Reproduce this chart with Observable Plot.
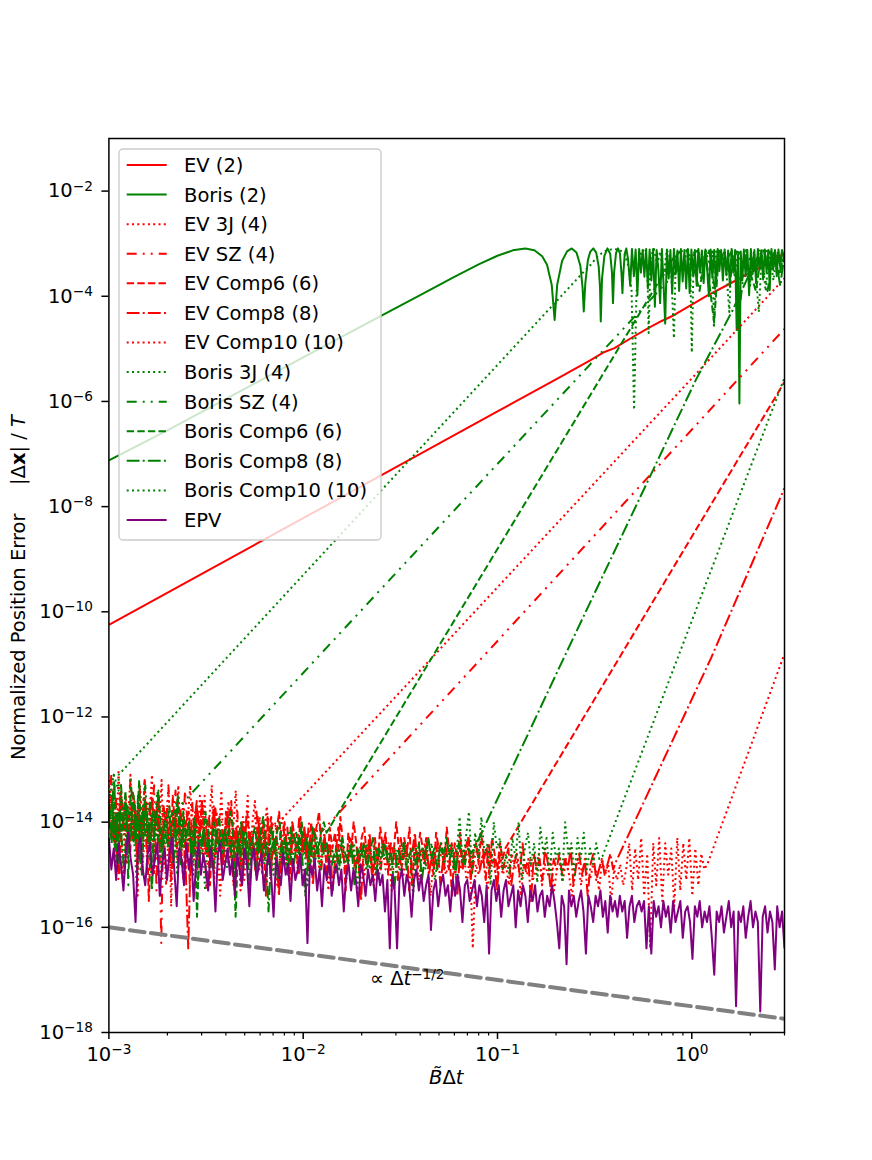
<!DOCTYPE html>
<html>
<head>
<meta charset="utf-8">
<script src="https://cdn.jsdelivr.net/npm/d3@7"></script>
<script src="https://cdn.jsdelivr.net/npm/@observablehq/plot@0.6"></script>
<style>
html, body { margin: 0; padding: 0; background: #fff; }
#wrap { position: relative; width: 872px; height: 1160px; font-family: "DejaVu Sans", sans-serif; }
</style>
</head>
<body>
<div id="wrap"></div>
<script>
// ---------------- axes / ticks ----------------
const xDomain = [1e-3, 3];
const yDomain = [1e-18, 1e-1];
const xMajorTicks = [1e-3, 1e-2, 1e-1, 1];
const xTickLabels = ["10^\u22123", "10^\u22122", "10^\u22121", "10^0"];
const xMinorTicks = [2e-3,3e-3,4e-3,5e-3,6e-3,7e-3,8e-3,9e-3,2e-2,3e-2,4e-2,5e-2,6e-2,7e-2,8e-2,9e-2,0.2,0.3,0.4,0.5,0.6,0.7,0.8,0.9,2,3];
const yMajorTicks = [1e-18,1e-16,1e-14,1e-12,1e-10,1e-8,1e-6,1e-4,1e-2];
const yTickLabels = ["10^\u221218","10^\u221216","10^\u221214","10^\u221212","10^\u221210","10^\u22128","10^\u22126","10^\u22124","10^\u22122"];

// ---------------- series ----------------
const seriesNames = ["EV (2)","Boris (2)","EV 3J (4)","EV SZ (4)","EV Comp6 (6)","EV Comp8 (8)","EV Comp10 (10)","Boris 3J (4)","Boris SZ (4)","Boris Comp6 (6)","Boris Comp8 (8)","Boris Comp10 (10)","EPV"];
const seriesColors = ["#ff0000","#008000","#ff0000","#ff0000","#ff0000","#ff0000","#ff0000","#008000","#008000","#008000","#008000","#008000","#800080"];
const seriesDash = [null,null,"2,3.3","10,6,2,6,2,6","7.4,3.2","12.8,3.2,2,3.2","2,3.3","2,3.3","10,6,2,6,2,6","7.4,3.2","12.8,3.2,2,3.2","2,3.3",null];

// Values, in decades: [log10(dt), log10(error)].
// Noise-floor parts: log10(error) samples from dt = 1e-3 up to the given end decade.
const evTwoLog = [[-3,-10.25],[-2,-8.22],[-1,-6.19],[-0.699,-5.58],[-0.523,-5.22],[-0.456,-5.07],[-0.398,-4.985],[-0.301,-4.77],[-0.222,-4.6],[-0.155,-4.47],[-0.097,-4.37],[0,-4.16],[0.079,-3.99],[0.176,-3.8],[0.301,-3.55],[0.398,-3.37],[0.431,-3.27],[0.477,-3.19]];

const borisTwoLog = [[-3,-7.12],[-2.699,-6.55],[-2.301,-5.76],[-2,-5.16],[-1.699,-4.57],[-1.398,-3.98],[-1.222,-3.63],[-1.097,-3.395],[-1,-3.23],[-0.921,-3.127],[-0.857,-3.09],[-0.81,-3.124],[-0.77,-3.24],[-0.745,-3.4],[-0.721,-3.78],[-0.706,-4.45],[-0.6925,-3.775],[-0.6676,-3.33],[-0.642,-3.146],[-0.618,-3.09],[-0.5935,-3.167],[-0.5735,-3.42],[-0.562,-3.84],[-0.556,-4.29],[-0.548,-3.75],[-0.5346,-3.31],[-0.523,-3.157],[-0.507,-3.09],[-0.492,-3.17],[-0.479,-3.44],[-0.4724,-3.83],[-0.4685,-4.48],[-0.462,-3.66],[-0.4498,-3.23],[-0.434,-3.09],[-0.42,-3.19],[-0.411,-3.54],[-0.4056,-4.13],[-0.4,-3.55],[-0.39,-3.18],[-0.38,-3.09],[-0.3696,-3.19],[-0.3615,-3.59],[-0.357,-3.94],[-0.3526,-3.585],[-0.345,-3.19],[-0.337,-3.09],
[-0.328,-3.3],[-0.317,-3.8],[-0.308,-3.1],[-0.298,-3.62],[-0.289,-3.11],[-0.28,-3.98],[-0.271,-3.1],[-0.262,-3.55],[-0.253,-3.12],[-0.244,-3.63],[-0.235,-3.1],[-0.226,-3.85],[-0.217,-3.11],[-0.208,-3.7],[-0.199,-3.1],[-0.19,-4.2],[-0.181,-3.12],[-0.172,-3.5],[-0.163,-4.13],[-0.154,-3.1],[-0.145,-3.8],[-0.137,-4.52],[-0.128,-3.11],[-0.119,-3.66],[-0.11,-3.12],[-0.101,-3.95],[-0.092,-3.1],[-0.083,-3.58],[-0.074,-3.13],[-0.065,-3.9],[-0.056,-3.1],[-0.047,-3.72],[-0.038,-3.12],[-0.029,-3.85],[-0.02,-3.1],[-0.011,-3.94],[-0.002,-3.11],[0.007,-3.6],[0.016,-3.12],[0.025,-3.8],[0.034,-3.1],[0.043,-3.55],[0.052,-3.13],[0.061,-3.75],[0.07,-3.11],[0.079,-3.48],[0.088,-4.0],[0.097,-3.11],[0.106,-3.65],[0.115,-3.12],[0.124,-3.78],[0.133,-3.1],[0.142,-3.52],[0.151,-3.12],[0.16,-3.7],[0.169,-3.11],[0.178,-3.6],[0.187,-3.13],[0.196,-3.82],[0.205,-3.1],[0.214,-3.55],[0.223,-3.12],[0.231,-4.64],[0.238,-3.2],[0.245,-6.04],[0.252,-3.15],[0.26,-3.7],[0.268,-3.11],[0.277,-3.62],[0.286,-3.12],[0.295,-3.98],[0.304,-3.1],[0.313,-3.58],[0.322,-3.12],[0.331,-3.75],[0.34,-3.1],[0.349,-3.5],[0.358,-3.13],[0.367,-3.68],[0.376,-3.11],[0.385,-3.55],[0.394,-3.12],[0.401,-3.88],[0.41,-3.1],[0.419,-3.5],[0.428,-3.12],[0.437,-3.62],[0.446,-3.11],[0.455,-3.45],[0.464,-3.12],[0.477,-3.3]];

const ev3jNoiseEnd = -2.15;
const ev3jNoise = [-13.2,-14.1,-13.6,-14.9,-13.0,-13.9,-15.2,-13.5,-14.0,-13.1,
-14.3,-13.7,-15.4,-13.3,-14.0,-13.2,-14.6,-13.8,-13.1,-15.0,
-13.6,-14.1,-13.2,-14.8,-13.9,-13.4,-15.6,-13.8,-14.0,-13.3,
-14.4,-13.6,-15.0,-13.9,-13.3,-14.5,-13.8,-14.9,-13.5,-14.1,
-13.5,-14.6,-13.9,-13.3,-15.1,-13.8,-14.2,-13.4,-14.8,-14.0,
-13.6,-14.7,-14.1,-13.4,-14.3,-15.3,-13.9,-14.2,-13.5,-14.8,
-14.0,-13.6,-14.6,-13.9,-15.0,-14.1,-13.7,-14.4,-14.0,-14.1];
const ev3jLog = [[-2.15,-14.1],[-1.339,-10.88],[0.056,-5.34],[0.477,-3.66]];

const evSzNoiseEnd = -1.91;
const evSzNoise = [-13.9,-13.1,-14.4,-13.5,-15.1,-13.3,-14.0,-13.6,-14.6,-13.2,
-14.3,-13.7,-14.8,-13.4,-14.2,-13.2,-14.9,-13.8,-14.0,-13.3,
-15.3,-13.6,-16.3,-13.7,-14.1,-13.3,-14.6,-13.9,-13.4,-15.0,
-13.7,-14.3,-13.4,-14.0,-15.2,-13.6,-14.4,-13.8,-14.8,-13.6,
-14.1,-15.3,-13.9,-14.3,-13.7,-14.6,-14.0,-13.8,-14.4,-14.1,
-13.9,-14.7,-14.0,-14.3,-13.8,-14.9,-14.1,-14.4,-13.9,-14.2,
-14.6,-14.0,-13.8,-14.3,-14.8,-14.1,-14.5,-13.9,-15.2,-14.2,
-14.0,-14.6,-14.3,-13.9,-14.4,-14.1,-14.8,-14.0,-14.3,-14.5,
-13.9,-14.4,-14.2,-14.7,-14.0,-14.5,-14.1,-14.3,-14.0,-14.2];
const evSzLog = [[-1.91,-14.2],[-1.081,-10.88],[0.477,-4.62]];

const evC6NoiseEnd = -0.96;
const evC6Noise = [-14.0,-13.5,-14.4,-13.8,-15.0,-13.6,-14.2,-13.9,-14.6,-13.4,
-14.1,-13.7,-14.8,-14.0,-13.6,-15.5,-13.9,-14.3,-13.7,-14.1,
-14.5,-13.8,-14.0,-14.7,-13.5,-14.2,-13.6,-14.4,-15.1,-14.0,
-13.8,-14.3,-14.6,-13.7,-14.2,-13.6,-14.5,-14.0,-15.2,-14.1,
-13.7,-14.4,-14.2,-14.8,-13.8,-14.3,-13.6,-14.6,-14.1,-14.4,
-15.0,-14.2,-13.8,-14.5,-14.3,-14.9,-13.9,-14.4,-14.0,-15.4,
-14.3,-13.9,-14.6,-14.2,-13.8,-14.8,-14.3,-14.5,-15.1,-14.0,
-14.4,-14.7,-13.9,-14.6,-14.2,-14.9,-14.0,-14.5,-14.1,-13.8,
-14.6,-14.3,-15.0,-14.1,-14.5,-14.2,-14.8,-13.9,-14.4,-15.3,
-14.2,-14.6,-14.0,-14.4,-14.9,-14.3,-14.1,-14.7,-14.4,-15.1,
-14.3,-14.8,-14.1,-14.5,-14.2,-15.0,-14.4,-14.6,-14.0,-14.5,
-14.9,-14.3,-14.6,-14.1,-15.2,-14.4,-14.7,-14.2,-14.5,-14.8,
-14.3,-14.6,-15.0,-14.2,-14.5,-14.4,-14.9,-14.1,-14.6,-15.4,
-14.4,-14.7,-14.2,-14.9,-14.5,-14.3,-15.1,-14.6,-14.4,-14.8,
-14.2,-14.7,-14.5,-15.0,-14.3,-14.6,-14.9,-14.4,-14.7,-14.5];
const evC6Log = [[-0.96,-14.5],[-0.374,-10.88],[0.477,-5.63]];

const evC8NoiseEnd = -0.39;
const evC8Noise = [-13.7,-14.3,-13.9,-14.8,-13.5,-14.1,-13.8,-14.5,-14.0,-13.6,
-14.9,-13.9,-14.2,-13.7,-14.4,-13.5,-14.0,-13.8,-14.6,-14.1,
-13.9,-14.3,-15.1,-14.0,-14.5,-13.8,-14.2,-14.7,-16.4,-14.4,
-14.1,-13.6,-14.2,-14.0,-14.6,-14.3,-14.8,-13.7,-14.4,-14.2,
-14.9,-14.3,-13.8,-14.5,-15.2,-14.2,-14.6,-14.0,-14.3,-14.8,
-14.2,-14.5,-15.0,-14.1,-14.7,-14.4,-13.9,-14.9,-14.5,-14.3,
-15.4,-14.4,-14.0,-14.6,-14.8,-14.2,-14.4,-15.0,-14.6,-14.1,
-14.7,-14.3,-15.2,-14.4,-14.6,-14.9,-14.2,-14.7,-14.4,-15.3,
-14.6,-14.1,-14.5,-14.7,-15.0,-14.3,-14.4,-14.9,-14.6,-15.5,
-14.4,-14.8,-14.2,-15.0,-14.7,-14.5,-14.9,-14.3,-14.6,-14.4,
-14.8,-14.5,-15.1,-14.3,-14.7,-14.4,-15.3,-14.6,-14.2,-14.9,
-14.5,-14.7,-14.3,-15.0,-14.6,-14.8,-14.4,-15.2,-14.7,-14.5,
-14.9,-14.4,-14.7,-15.4,-14.5,-14.8,-14.6,-14.3,-15.0,-14.7,
-14.5,-14.9,-14.6,-15.1,-14.4,-14.8,-14.7,-15.3,-14.6,-14.9,
-14.7,-14.5,-15.2,-14.8,-14.6,-15.0,-14.4,-14.9,-14.7,-15.5,
-14.6,-14.9,-14.7,-15.1,-14.5,-14.8,-15.3,-14.7,-14.9,-14.6,
-15.0,-14.7,-14.9,-14.5,-15.2,-14.8,-14.6,-15.0,-14.7,-15.4,
-14.8,-14.6,-15.1,-14.9,-14.7,-15.0,-14.8,-14.6,-14.9,-14.75];
const evC8Log = [[-0.39,-14.75],[0.099,-10.88],[0.477,-7.65]];

const evC10NoiseEnd = 0.08;
const evC10Noise = [-14.1,-13.6,-14.5,-13.9,-13.4,-14.3,-14.8,-13.7,-14.0,-14.4,
-13.8,-15.0,-14.2,-13.6,-14.1,-14.6,-13.9,-14.3,-13.7,-15.2,
-14.0,-14.4,-13.8,-14.2,-14.7,-13.9,-14.5,-14.1,-15.0,-14.0,
-14.3,-14.6,-13.9,-14.4,-14.1,-14.8,-14.2,-15.4,-14.3,-14.0,
-14.5,-14.2,-14.7,-14.3,-14.1,-15.1,-14.4,-14.2,-14.6,-14.3,
-14.9,-14.4,-14.2,-14.7,-14.5,-14.3,-15.2,-14.6,-14.4,-14.8,
-14.3,-14.6,-14.5,-15.0,-14.4,-14.2,-14.6,-14.3,-14.7,-14.5,
-14.9,-14.4,-14.6,-15.3,-14.5,-14.7,-14.4,-14.8,-14.6,-15.1,
-14.5,-14.7,-14.9,-14.6,-14.4,-15.0,-14.7,-14.5,-15.2,-14.6,
-14.8,-14.5,-14.9,-14.4,-15.3,-14.6,-14.8,-14.5,-15.0,-14.7,
-14.6,-14.9,-14.5,-15.1,-14.7,-14.4,-14.8,-15.4,-14.6,-14.9,
-14.7,-14.5,-15.0,-14.8,-14.6,-15.0,-14.7,-14.9,-14.5,-15.2,
-14.6,-16.4,-14.8,-15.0,-14.7,-14.9,-15.3,-14.6,-14.8,-15.1,
-14.7,-15.0,-14.8,-15.2,-14.6,-14.9,-14.7,-15.4,-14.8,-15.0,
-14.7,-15.1,-14.9,-14.6,-15.2,-14.8,-15.0,-14.7,-15.3,-14.9,
-14.8,-15.1,-14.7,-15.0,-15.4,-14.9,-14.7,-15.2,-14.8,-15.0,
-15.1,-14.8,-14.9,-15.3,-14.7,-15.0,-14.8,-15.5,-14.9,-15.1,
-14.8,-15.2,-14.9,-14.4,-15.3,-14.5,-15.1,-14.3,-15.4,-14.6,
-16.4,-14.4,-15.2,-14.3,-15.5,-14.4,-15.0,-14.5,-15.6,-14.3,
-15.3,-14.4,-15.1,-14.3,-15.4,-14.5,-15.2,-14.6,-14.9,-14.8];
const evC10Log = [[0.08,-14.8],[0.477,-10.8]];

const b3jNoiseEnd = -2.95;
const b3jNoise = [-13.6,-13.1,-13.4];
const b3jLog = [[-2.95,-13.1],[-1.588,-7.652],[-0.564,-3.565],[-0.52,-3.4],[-0.48,-3.22],[-0.44,-3.13],
[-0.4,-3.1],[-0.37,-3.12],[-0.345,-3.2],[-0.325,-3.45],[-0.31,-3.9],[-0.297,-6.16],[-0.285,-3.95],[-0.272,-3.3],[-0.255,-3.12],[-0.238,-3.15],[-0.228,-3.6],[-0.222,-4.7],[-0.212,-3.25],[-0.195,-3.1],[-0.178,-3.4],[-0.163,-3.15],[-0.145,-3.6],[-0.128,-3.12],[-0.108,-3.3],[-0.092,-4.8],[-0.082,-3.2],[-0.062,-3.12],[-0.045,-3.5],[-0.025,-3.12],[-0.008,-3.4],[0.0,-5.07],[0.01,-3.2],[0.03,-3.15],[0.05,-3.7],[0.07,-3.1],[0.09,-3.4],[0.105,-3.15],[0.114,-4.6],[0.125,-3.15],[0.15,-3.3],[0.17,-3.13],[0.193,-4.3],[0.205,-3.2],[0.22,-3.6],[0.24,-3.15],[0.26,-3.5],[0.28,-3.12],[0.3,-3.8],[0.32,-3.15],[0.345,-4.3],[0.36,-3.2],[0.38,-3.9],[0.4,-3.12],[0.42,-3.7],[0.44,-3.15],[0.46,-3.5],[0.477,-3.2]];

const bSzNoiseEnd = -2.7;
const bSzNoise = [-13.6,-14.2,-13.1,-13.9,-14.8,-13.3,-14.0,-13.6,-15.2,-13.2,
-13.9,-14.4,-13.5,-14.9,-13.7,-13.3,-14.1,-13.6,-14.6,-13.9,
-13.4,-14.2,-14.7,-13.8,-13.95];
const bSzLog = [[-2.7,-13.95],[-1.58,-9.49],[-0.271,-4.295],[-0.1,-3.62],[-0.04,-3.35],[0.0,-3.2],[0.03,-3.13],[0.06,-3.4],[0.09,-3.13],[0.12,-3.9],[0.14,-3.15],[0.18,-3.3],[0.21,-3.12],[0.25,-4.1],[0.28,-3.15],[0.32,-3.5],[0.35,-3.13],[0.39,-3.9],[0.42,-3.2],[0.45,-3.6],[0.477,-3.15]];

const bC6NoiseEnd = -1.88;
const bC6Noise = [-13.8,-14.4,-13.3,-14.9,-13.9,-14.2,-13.4,-14.7,-14.0,-13.5,
-14.3,-13.2,-15.0,-13.6,-14.1,-14.5,-13.8,-14.0,-13.4,-14.2,
-14.4,-14.1,-13.7,-14.6,-14.0,-13.5,-14.8,-13.8,-14.3,-14.0,
-14.7,-13.9,-15.8,-14.2,-14.5,-13.8,-14.1,-14.9,-14.0,-14.3,
-13.9,-14.6,-14.2,-14.4,-13.8,-14.1,-15.8,-14.3,-14.0,-14.7,
-14.2,-15.2,-14.3,-14.1,-14.5,-14.2,-13.9,-14.4,-14.8,-14.1,
-14.5,-14.2,-14.0,-14.6,-14.3,-15.0,-14.1,-14.4,-14.2,-14.6,
-14.0,-14.5,-14.3,-14.9,-14.1,-14.4,-14.6,-14.2,-14.0,-14.2];
const bC6Log = [[-1.88,-14.2],[-1.339,-10.88],[-0.289,-4.45],[-0.15,-3.6],[-0.1,-3.3],[-0.06,-3.15],[-0.03,-3.12],[0.0,-3.3],[0.04,-3.9],[0.07,-3.15],[0.115,-4.5],[0.14,-3.13],[0.2,-3.6],[0.23,-3.15],[0.27,-3.2],[0.33,-3.9],[0.36,-3.13],[0.4,-3.15],[0.45,-3.6],[0.477,-3.2]];

const bC8NoiseEnd = -1.12;
const bC8Noise = [-14.0,-13.6,-14.5,-13.8,-14.2,-15.0,-13.7,-14.1,-14.4,-13.9,
-14.7,-13.8,-14.3,-14.0,-15.3,-13.9,-14.2,-14.6,-14.0,-14.4,
-14.1,-14.8,-14.2,-13.9,-14.5,-14.3,-14.0,-14.7,-14.2,-15.1,
-14.4,-14.1,-14.6,-14.3,-14.9,-14.2,-14.5,-14.3,-14.1,-14.8,
-14.4,-15.2,-14.3,-14.6,-14.2,-14.7,-14.4,-14.5,-15.0,-14.3,
-14.6,-14.4,-15.7,-14.5,-14.3,-15.1,-14.5,-14.7,-14.4,-14.6,
-14.9,-14.5,-14.3,-14.7,-15.4,-14.6,-14.4,-14.8,-14.5,-14.3,
-14.6,-14.4,-15.0,-14.7,-14.5,-14.9,-14.3,-14.6,-14.8,-14.4,
-15.2,-14.5,-14.7,-14.4,-14.9,-14.6,-14.3,-15.0,-14.5,-14.7,
-14.4,-14.8,-14.6,-15.3,-14.5,-14.7,-14.4,-14.9,-14.6,-14.5,
-14.8,-14.4,-15.1,-14.6,-14.3,-14.7,-14.5,-14.9,-14.4,-14.6,
-14.3,-14.7,-14.5,-15.0,-14.4,-14.6,-14.8,-14.5,-14.6,-14.5];
const bC8Log = [[-1.12,-14.5],[-0.659,-10.88],[0.021,-5.59],[0.211,-4.26],[0.3,-3.55],[0.34,-3.25],[0.37,-3.13],[0.4,-3.5],[0.425,-3.13],[0.455,-3.8],[0.477,-3.2]];

const bC10NoiseEnd = -0.46;
const bC10Noise = [-13.7,-14.3,-13.9,-14.8,-13.5,-14.1,-14.5,-13.8,-14.2,-15.2,
-13.9,-14.4,-14.0,-14.7,-13.8,-14.3,-14.1,-14.9,-14.0,-14.5,
-14.2,-13.9,-15.0,-14.3,-14.1,-14.6,-14.2,-14.8,-14.0,-14.4,
-14.3,-15.3,-14.2,-14.5,-14.1,-14.7,-14.4,-14.2,-14.9,-14.3,
-14.6,-14.4,-14.2,-15.1,-14.5,-14.3,-14.7,-14.4,-14.6,-14.2,
-14.8,-14.4,-14.5,-15.0,-14.3,-14.6,-14.4,-14.9,-14.2,-14.7,
-14.5,-14.3,-14.8,-14.5,-15.2,-14.4,-14.6,-14.3,-14.9,-14.5,
-14.4,-14.7,-14.5,-15.0,-14.6,-14.3,-14.8,-14.5,-14.7,-14.4,
-15.3,-14.5,-14.7,-14.4,-14.9,-14.6,-14.5,-15.1,-14.4,-14.7,
-14.6,-14.9,-14.5,-14.7,-15.0,-14.4,-14.8,-14.6,-15.4,-14.5,
-14.7,-14.5,-14.9,-14.6,-14.4,-15.1,-14.7,-14.5,-14.8,-14.6,
-14.4,-14.9,-14.6,-13.9,-14.8,-14.3,-13.8,-15.0,-14.2,-14.7,
-13.9,-14.6,-14.4,-15.2,-14.0,-14.5,-14.3,-14.9,-14.6,-15.0,
-14.3,-14.7,-14.0,-15.1,-14.5,-14.2,-14.8,-14.4,-15.15,-14.1,
-14.6,-14.3,-15.0,-14.2,-14.7,-14.5,-15.1,-14.0,-14.6,-14.4,
-15.0,-14.3,-14.7,-14.2,-14.9,-14.5,-14.8,-14.4,-14.7,-14.65];
const bC10Log = [[-0.46,-14.65],[-0.073,-10.88],[0.477,-5.55]];

const epvNoiseEnd = 0.477;
const epvNoise = [-14.3,-14.9,-14.5,-15.1,-14.4,-14.8,-15.3,-14.6,-14.2,-14.7,
-15.0,-15.9,-14.5,-14.3,-14.9,-15.2,-14.6,-14.4,-15.0,-14.7,
-14.4,-15.4,-14.8,-14.5,-15.1,-14.6,-14.3,-14.9,-15.6,-14.5,
-14.7,-15.2,-14.4,-14.9,-14.6,-15.5,-14.8,-14.4,-15.0,-14.6,
-14.9,-15.3,-14.5,-14.8,-15.7,-14.6,-14.4,-15.1,-14.8,-14.5,
-15.0,-14.7,-15.4,-14.6,-14.9,-15.2,-14.5,-14.8,-15.6,-14.7,
-14.5,-15.1,-14.8,-14.6,-15.3,-14.9,-14.6,-15.0,-15.8,-14.7,
-14.9,-15.2,-14.6,-15.0,-14.8,-15.5,-14.7,-15.1,-14.9,-14.6,
-15.2,-14.9,-16.3,-14.8,-15.0,-14.7,-15.3,-14.9,-15.6,-14.8,
-15.1,-14.7,-15.4,-15.0,-14.8,-15.2,-14.9,-15.7,-15.0,-14.8,
-15.3,-14.9,-15.1,-15.6,-14.8,-15.0,-15.4,-14.9,-15.2,-15.0,
-15.5,-14.9,-15.2,-15.0,-15.7,-15.1,-16.4,-15.0,-15.3,-16.4,
-15.1,-14.9,-15.4,-15.0,-15.2,-15.8,-15.1,-14.9,-15.3,-15.0,
-15.5,-15.2,-15.0,-16.05,-15.3,-15.1,-15.6,-15.2,-15.0,-15.4,
-15.2,-15.7,-15.1,-15.4,-15.0,-15.3,-15.9,-15.2,-15.1,-15.5,
-15.3,-15.1,-15.6,-15.2,-15.4,-15.9,-15.2,-16.5,-15.3,-15.1,
-15.5,-15.2,-15.8,-15.3,-15.1,-15.6,-15.4,-15.2,-16.0,-15.3,
-15.6,-15.2,-15.4,-15.9,-15.3,-15.5,-15.2,-15.7,-15.4,-15.3,
-15.8,-15.4,-15.6,-15.2,-15.5,-15.9,-16.4,-15.4,-15.6,-16.7,
-15.3,-15.6,-15.4,-15.8,-15.5,-15.3,-15.7,-16.5,-15.4,-15.6,
-15.9,-15.4,-15.6,-15.3,-15.8,-15.5,-16.1,-15.4,-15.7,-15.5,
-15.8,-15.4,-15.7,-15.5,-16.2,-15.6,-15.4,-15.9,-15.6,-15.5,
-15.7,-15.5,-16.4,-15.6,-16.5,-15.5,-15.8,-15.6,-16.0,-15.5,
-15.8,-15.6,-16.1,-15.5,-15.9,-15.7,-15.5,-16.2,-15.7,-15.6,
-15.9,-16.6,-15.6,-15.8,-15.5,-16.0,-15.7,-15.9,-15.6,-16.2,
-16.9,-15.7,-15.9,-15.6,-16.1,-15.8,-15.5,-16.0,-15.7,-17.5,
-15.7,-15.9,-15.6,-16.2,-15.8,-15.5,-16.0,-15.7,-15.9,-17.6,
-15.8,-15.6,-16.1,-15.7,-15.9,-16.8,-15.6,-16.0,-15.7,-16.4];

// reference slope line (proportional to dt^-1/2) and its label
const refLog = [[-3,-16],[0.477,-17.74]];
const annotLog = [[-1.656,-17.105]];
const annotLabel = "\u221D \u0394t^\u22121/2";

// ---------------- build table ----------------
const noiseRows = (logYs, lxEnd) => logYs.map((ly, i) => ({x: 10 ** (-3 + (lxEnd + 3) * i / (logYs.length - 1)), y: 10 ** ly}));
const curveRows = (pairs) => pairs.map(([lx, ly]) => ({x: 10 ** lx, y: 10 ** ly}));
const seriesRows = [
  curveRows(evTwoLog),
  curveRows(borisTwoLog),
  [...noiseRows(ev3jNoise, ev3jNoiseEnd), ...curveRows(ev3jLog)],
  [...noiseRows(evSzNoise, evSzNoiseEnd), ...curveRows(evSzLog)],
  [...noiseRows(evC6Noise, evC6NoiseEnd), ...curveRows(evC6Log)],
  [...noiseRows(evC8Noise, evC8NoiseEnd), ...curveRows(evC8Log)],
  [...noiseRows(evC10Noise, evC10NoiseEnd), ...curveRows(evC10Log)],
  [...noiseRows(b3jNoise, b3jNoiseEnd), ...curveRows(b3jLog)],
  [...noiseRows(bSzNoise, bSzNoiseEnd), ...curveRows(bSzLog)],
  [...noiseRows(bC6Noise, bC6NoiseEnd), ...curveRows(bC6Log)],
  [...noiseRows(bC8Noise, bC8NoiseEnd), ...curveRows(bC8Log)],
  [...noiseRows(bC10Noise, bC10NoiseEnd), ...curveRows(bC10Log)],
  noiseRows(epvNoise, epvNoiseEnd)
];
const refRows = curveRows(refLog);
const annotRows = curveRows(annotLog).map(d => ({...d, text: annotLabel}));

const xLabelOf = new Map(xMajorTicks.map((v, i) => [v, xTickLabels[i]]));
const yLabelOf = new Map(yMajorTicks.map((v, i) => [v, yTickLabels[i]]));

const FS = 19.5;
const svg = Plot.plot({
  width: 872,
  height: 1160,
  marginLeft: 108.4,
  marginRight: 88,
  marginTop: 138,
  marginBottom: 128,
  style: {fontFamily: "'DejaVu Sans', sans-serif", fontSize: FS + "px", color: "#000", background: "#fff"},
  x: {type: "log", domain: xDomain},
  y: {type: "log", domain: yDomain},
  marks: [
    ...seriesRows.map((rows, i) => Plot.line(rows, {
      x: "x", y: "y", stroke: seriesColors[i], strokeWidth: 2,
      strokeDasharray: seriesDash[i] || undefined,
      strokeLinejoin: "round", strokeLinecap: "butt", clip: true
    })),
    Plot.line(refRows, {x: "x", y: "y", stroke: "#808080", strokeWidth: 4, strokeDasharray: "14.8,6.4", clip: true}),
    Plot.text(annotRows, {x: "x", y: "y", text: "text", textAnchor: "start", lineAnchor: "bottom", fontSize: FS}),
    Plot.frame({stroke: "#000", strokeWidth: 1.5}),
    Plot.axisX(xMinorTicks, {tickSize: 3.5, tickFormat: () => "", strokeWidth: 1.2, label: null}),
    Plot.axisX(xMajorTicks, {tickSize: 7, tickPadding: 7.5, tickFormat: d => xLabelOf.get(d), strokeWidth: 1.5, label: null}),
    Plot.axisY(yMajorTicks, {tickSize: 7, tickPadding: 9, tickFormat: d => yLabelOf.get(d), strokeWidth: 1.5, label: null})
  ]
});

// ---- math-like text (superscripts, italic, bold) ----
const SUP = FS * 0.7, SHIFT = FS * 0.34;
function setParts(node, parts) {
  const t = d3.select(node);
  t.text(null);
  parts.forEach(p => {
    const s = t.append("tspan").text(p.t);
    if (p.i) s.attr("font-style", "italic");
    if (p.b) s.attr("font-weight", "bold");
    if (p.sup) s.attr("font-size", SUP).attr("dy", -SHIFT);
  });
}
d3.select(svg).selectAll("text").each(function () {
  const s = this.textContent;
  if (s === annotLabel) {
    setParts(this, [{t: "\u221D \u0394"}, {t: "t", i: true}, {t: "\u22121/2", sup: true}]);
  } else if (s.includes("^")) {
    const [base, sup] = s.split("^");
    setParts(this, [{t: base}, {t: sup, sup: true}]);
  }
});

const root = d3.select(svg);
const xLabel = root.append("text").attr("x", (108.4 + 784) / 2).attr("y", 1084)
  .attr("text-anchor", "middle").attr("font-size", FS).attr("fill", "#000");
setParts(xLabel.node(), [{t: "B\u0303", i: true}, {t: "\u0394"}, {t: "t", i: true}]);
// y label: two runs, rotated, reading upwards
const yLabelA = root.append("text").attr("transform", "translate(25,760) rotate(-90)")
  .attr("text-anchor", "start").attr("font-size", FS).attr("fill", "#000");
setParts(yLabelA.node(), [{t: "Normalized Position Error"}]);
const yLabelB = root.append("text").attr("transform", "translate(25,485) rotate(-90)")
  .attr("text-anchor", "start").attr("font-size", FS).attr("fill", "#000");
setParts(yLabelB.node(), [{t: "|\u0394"}, {t: "x", b: true}, {t: "| / "}, {t: "T", i: true}]);

const wrap = document.getElementById("wrap");
wrap.appendChild(svg);

// ---------------- legend ----------------
const LX = 117, LY = 147;
const legend = d3.select(wrap).append("svg")
  .attr("width", 268).attr("height", 398)
  .style("position", "absolute").style("left", LX + "px").style("top", LY + "px")
  .style("font-family", "'DejaVu Sans', sans-serif").style("font-size", FS + "px");
legend.append("rect").attr("x", 2).attr("y", 2).attr("width", 262).attr("height", 391).attr("rx", 4)
  .attr("fill", "#fff").attr("fill-opacity", 0.8).attr("stroke", "#cccccc").attr("stroke-width", 1.4);
seriesNames.forEach((name, i) => {
  const cy = 165 - LY + 29.58 * i;
  legend.append("line").attr("x1", 126.7 - LX).attr("x2", 166.7 - LX).attr("y1", cy).attr("y2", cy)
    .attr("stroke", seriesColors[i]).attr("stroke-width", 2)
    .attr("stroke-dasharray", seriesDash[i] || null);
  legend.append("text").attr("x", 184 - LX).attr("y", cy + 7).attr("fill", "#000").text(name);
});
</script>
</body>
</html>
